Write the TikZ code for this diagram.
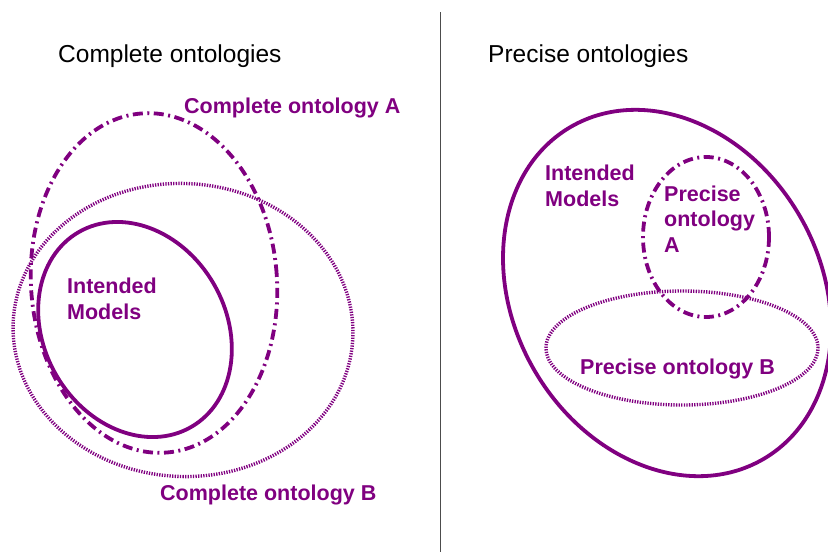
\documentclass[tikz,border=0pt]{standalone}
\usepackage{fontspec}
\setmainfont{Liberation Sans}
\usetikzlibrary{shapes.geometric}
\definecolor{pur}{HTML}{800080}
\tikzset{
  set/.style={ellipse, draw=pur, inner sep=0pt},
  solidset/.style={set, line width=3.8pt},
  dashdotset/.style={set, line width=3.8pt, dash pattern=on 10pt off 4.5pt on 2pt off 4.5pt},
  dotset/.style={set, line width=3.4pt, dash pattern=on 1.3pt off 1.3pt},
  lbl/.style={text=pur, font=\fontsize{21.5}{25.5}\selectfont\bfseries, align=left, inner sep=0pt},
  title/.style={font=\fontsize{24.5}{28}\selectfont, inner sep=0pt}
}
\begin{document}
\begin{tikzpicture}[x=1pt, y=-1pt]
\useasboundingbox (0,0) rectangle (828,552);
\draw[line width=0.8pt, black!70] (440,12) coordinate (top) -- (440,552) coordinate (bot);
\node[title, anchor=base west] (t1) at (58,62) {Complete ontologies};
\node[title, anchor=base west] (t2) at (488,62) {Precise ontologies};
% left
\node[dashdotset, minimum width=246pt, minimum height=340pt, rotate=4] (cA) at (154,283) {};
\node[dotset, minimum width=340pt, minimum height=293pt, rotate=-3] (cB) at (183,330) {};
\node[solidset, minimum width=182pt, minimum height=225pt, rotate=30] (im1) at (135,329.5) {};
\node[lbl, anchor=base west] (imt1) at (67,319) {Intended\\Models};
\node[lbl, anchor=base west] (la) at (184,113) {Complete ontology A};
\node[lbl, anchor=base west] (lb) at (160,500) {Complete ontology B};
% right
\node[solidset, minimum width=307pt, minimum height=384pt, rotate=30] (im2) at (667,293) {};
\node[dashdotset, minimum width=126pt, minimum height=160pt] (pA) at (706,237) {};
\node[dotset, minimum width=272pt, minimum height=114pt] (pB) at (682,348) {};
\node[lbl, anchor=base west] (imt2) at (545,206) {Intended\\Models};
\node[lbl, anchor=base west] (pat) at (664,252) {Precise\\ontology\\A};
\node[lbl, anchor=base west] (pbt) at (580,374) {Precise ontology B};
\end{tikzpicture}
\end{document}
